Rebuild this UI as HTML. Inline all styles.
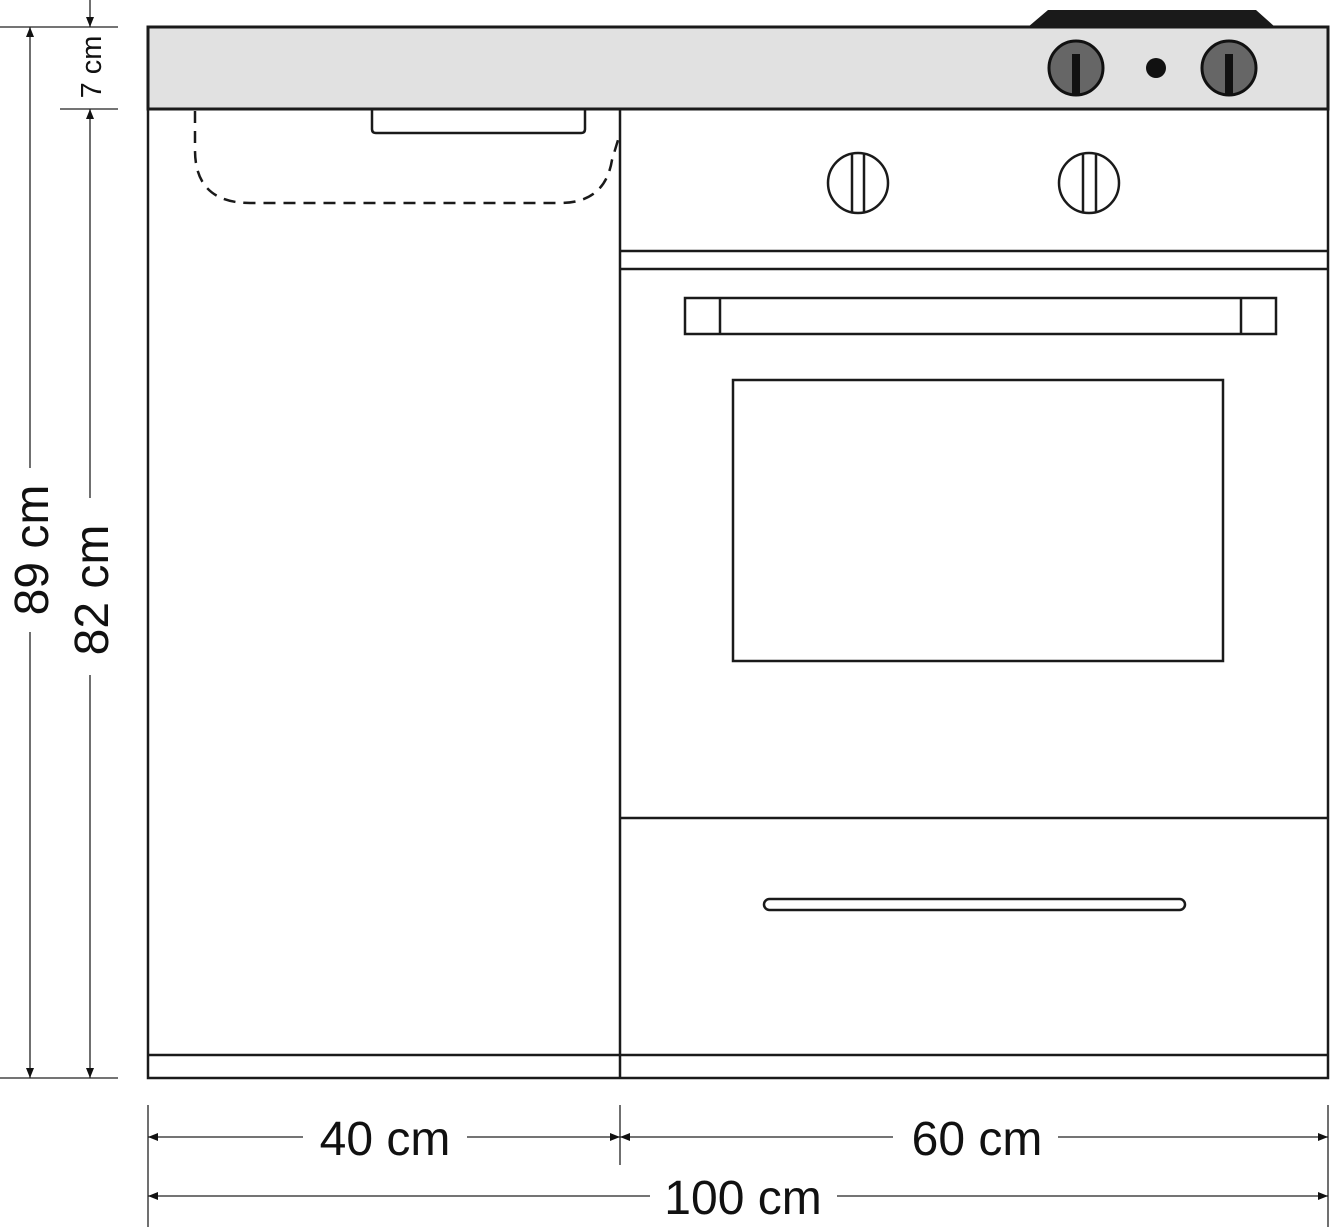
<!DOCTYPE html>
<html><head><style>body{margin:0;background:#fff}svg{display:block}</style></head><body>
<svg width="1331" height="1227" viewBox="0 0 1331 1227" xmlns="http://www.w3.org/2000/svg" font-family="Liberation Sans, sans-serif">
<defs>
<marker id="a" viewBox="0 0 10 10" refX="10" refY="5" markerWidth="10" markerHeight="10" markerUnits="userSpaceOnUse" orient="auto-start-reverse"><path d="M0,1 L10,5 L0,9 z" fill="#111"/></marker>
</defs>
<!-- countertop -->
<path d="M1028,27 L1048,10 L1256,10 L1275,27 z" fill="#1a1a1a"/>
<rect x="148" y="27" width="1180" height="82" fill="#e1e1e1" stroke="#1a1a1a" stroke-width="3"/>
<g stroke="#111" stroke-width="3" fill="#666">
<circle cx="1076" cy="68" r="27"/><circle cx="1229" cy="68" r="27"/></g>
<rect x="1072" y="54" width="8" height="41" fill="#111"/><rect x="1225" y="54" width="8" height="41" fill="#111"/>
<circle cx="1156" cy="68" r="10" fill="#111"/>
<!-- body -->
<g fill="none" stroke="#1a1a1a" stroke-width="2.5">
<rect x="148" y="109" width="1180" height="969"/>
<line x1="620" y1="109" x2="620" y2="1078"/>
<line x1="148" y1="1055" x2="1328" y2="1055"/>
<line x1="620" y1="251" x2="1328" y2="251"/>
<line x1="620" y1="269" x2="1328" y2="269"/>
<line x1="620" y1="818" x2="1328" y2="818"/>
<path d="M372,109 V129 Q372,133 376,133 H581 Q585,133 585,129 V109"/>
<rect x="685" y="298" width="591" height="36"/>
<line x1="720" y1="298" x2="720" y2="334"/><line x1="1241" y1="298" x2="1241" y2="334"/>
<rect x="733" y="380" width="490" height="281"/>
<rect x="764" y="899" width="421" height="11" rx="5.5"/>
<circle cx="858" cy="183" r="30"/><circle cx="1089" cy="183" r="30"/>
<line x1="852" y1="154" x2="852" y2="212"/><line x1="864" y1="154" x2="864" y2="212"/>
<line x1="1083" y1="154" x2="1083" y2="212"/><line x1="1096" y1="154" x2="1096" y2="212"/>
<path d="M195,111 V150 Q195,203 250,203 H560 Q605,203 612,160 L618,140" stroke-dasharray="12,8"/>
</g>
<!-- dimensions -->
<g stroke="#222" stroke-width="1.3" fill="none">
<line x1="0" y1="27" x2="118" y2="27"/><line x1="0" y1="1078" x2="118" y2="1078"/><line x1="60" y1="109" x2="118" y2="109"/>
<line x1="30" y1="27" x2="30" y2="468" marker-start="url(#a)"/><line x1="30" y1="632" x2="30" y2="1078" marker-end="url(#a)"/>
<line x1="90" y1="109" x2="90" y2="498" marker-start="url(#a)"/><line x1="90" y1="675" x2="90" y2="1078" marker-end="url(#a)"/>
<line x1="90" y1="0" x2="90" y2="27" marker-end="url(#a)"/>
<line x1="148" y1="1105" x2="148" y2="1227"/><line x1="620" y1="1105" x2="620" y2="1165"/><line x1="1328" y1="1105" x2="1328" y2="1227"/>
<line x1="148" y1="1137" x2="303" y2="1137" marker-start="url(#a)"/><line x1="467" y1="1137" x2="620" y2="1137" marker-end="url(#a)"/>
<line x1="620" y1="1137" x2="893" y2="1137" marker-start="url(#a)"/><line x1="1058" y1="1137" x2="1328" y2="1137" marker-end="url(#a)"/>
<line x1="148" y1="1196" x2="650" y2="1196" marker-start="url(#a)"/><line x1="837" y1="1196" x2="1328" y2="1196" marker-end="url(#a)"/>
</g>
<g fill="#111" font-size="48" text-anchor="middle">
<text x="385" y="1155">40 cm</text>
<text x="977" y="1155">60 cm</text>
<text x="743" y="1214">100 cm</text>
<text transform="translate(48,550) rotate(-90)">89 cm</text>
<text transform="translate(108,590) rotate(-90)">82 cm</text>
<text font-size="29" transform="translate(101,67) rotate(-90)">7 cm</text>
</g>
</svg>
</body></html>
